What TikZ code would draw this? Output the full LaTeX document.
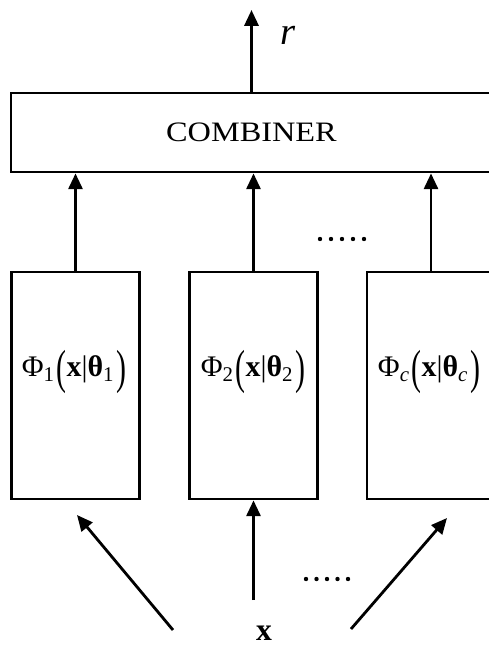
\documentclass[tikz,border=0pt]{standalone}
\usepackage{amsmath,amssymb}
\usepackage{fontspec}
\setmainfont{Liberation Serif}
\usetikzlibrary{arrows.meta}
\usetikzlibrary{positioning}
\tikzstyle{line} = [draw, line width=1.6pt, -{Triangle[length=9pt,width=8pt]}]
\tikzstyle{block} = [draw, line width=1.6pt, rectangle, inner sep=0pt]
\tikzstyle{classifier} = [block, minimum width=2.56cm, minimum height=4.54cm]
\newcommand{\bigpar}[1]{\raisebox{-0.22em}{\scalebox{1}[1.6]{#1}}}
\newcommand{\phifun}[1]{Φ\textsubscript{#1}\kern1pt\bigpar{(}\textbf{x}|\textbf{θ}\textsubscript{#1}\kern1pt\bigpar{)}}

\begin{document}
\begin{tikzpicture}[x=0.02cm, y=-0.02cm, labelfont/.style={font=\fontsize{17}{17}\selectfont, inner sep=0pt}]
	\clip (0,0) rectangle (489,645);
	\node[block, minimum width=9.62cm, minimum height=1.58cm] (comb) at (251.5,132.5) {\fontsize{16}{16}\selectfont\scalebox{1.15}[1]{COMBINER}};
	\node[classifier] (box1) at (75.5,385.5) {};
	\node[classifier] (box2) at (253.5,385.5) {};
	\node[classifier] (box3) at (431,385.5) {};
	\node[labelfont] (lab1) at (74,372) {\phifun{1}};
	\node[labelfont] (lab2) at (253,372) {\phifun{2}};
	\node[labelfont] (lab3) at (429,372) {\phifun{\textit{c}}};
	% outputs to the combiner
	\draw[line] (box1.north) -- (box1.north |- comb.south);
	\draw[line] (box2.north) -- (box2.north |- comb.south);
	\draw[line] (box3.north) -- (box3.north |- comb.south);
	\foreach \i in {0,...,4} \fill (320+11*\i,239) circle (2.2);
	% combined output
	\coordinate (out) at (251.5,10);
	\draw[line] (comb.north) -- (out);
	\node[font=\fontsize{22}{22}\selectfont\itshape] (rlab) at (288,35) {r};
	% input
	\node[font=\fontsize{18}{18}\selectfont\bfseries, inner sep=0pt] (xin) at (264,633) {x};
	\coordinate (in1) at (173,630);
	\coordinate (in2) at (253.5,600);
	\coordinate (in3) at (351,629);
	\coordinate (t1) at (77,515);
	\coordinate (t3) at (447,518);
	\draw[line] (in1) -- (t1);
	\draw[line] (in2) -- (box2.south);
	\draw[line] (in3) -- (t3);
	\foreach \i in {0,...,4} \fill (306+10.5*\i,579) circle (2.2);
\end{tikzpicture}
\end{document}
